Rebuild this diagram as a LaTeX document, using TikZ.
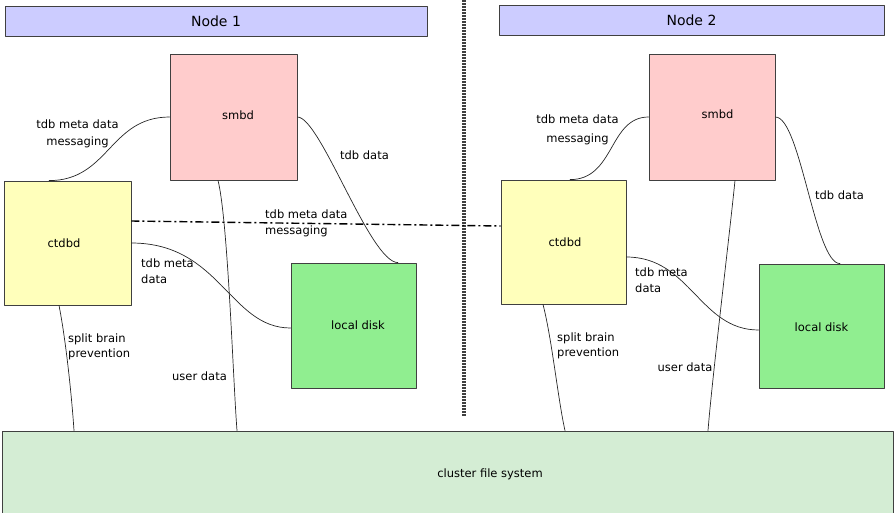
\documentclass[tikz,border=0pt]{standalone}
\usepackage{fontspec}
\setmainfont{DejaVu Sans}
\usepackage{tikz}
\usetikzlibrary{arrows.meta, positioning}
\definecolor{headblue}{HTML}{CCCCFF}
\definecolor{smbdred}{HTML}{FFCCCC}
\definecolor{ctdbyellow}{HTML}{FFFFBB}
\definecolor{diskgreen}{HTML}{90EE90}
\definecolor{cfsgreen}{HTML}{D4EDD4}
\tikzset{box/.style={draw=black!75, line width=0.8pt, minimum width=#1, inner sep=0pt,
  font=\fontsize{11.5}{14}\selectfont}}
\tikzset{lbl/.style={inner sep=0pt, font=\fontsize{11.5}{17}\selectfont}}
\tikzset{link/.style={line width=0.7pt, black!85}}

\begin{document}
\begin{tikzpicture}[line cap=round,line join=round,x=1pt,y=-1pt]
\useasboundingbox (0,0) rectangle (894,512);

% headers
\node[box=422pt, minimum height=30pt, fill=headblue, font=\fontsize{14}{16}\selectfont] (head1) at (216,21) {Node 1};
\node[box=385pt, minimum height=30pt, fill=headblue, font=\fontsize{14}{16}\selectfont] (head2) at (691.5,20) {Node 2};

% divider
\draw[line width=3.5pt, black!75, dash pattern=on 1.5pt off 1.5pt, line cap=butt] (464,0) -- (464,416);

% boxes node 1
\node[box=127pt, minimum height=126pt, fill=smbdred, label={[lbl, xshift=4.5pt, yshift=2pt]center:smbd}] (smbd1) at (233.5,117) {};
\node[box=127pt, minimum height=124pt, fill=ctdbyellow, label={[lbl, xshift=-3.5pt]center:ctdbd}] (ctdbd1) at (67.5,243) {};
\node[box=125pt, minimum height=125pt, fill=diskgreen, label={[lbl, xshift=4.5pt]center:local disk}] (disk1) at (353.5,325.5) {};

% boxes node 2
\node[box=126pt, minimum height=126pt, fill=smbdred, label={[lbl, xshift=5.5pt, yshift=3pt]center:smbd}] (smbd2) at (712,117) {};
\node[box=125pt, minimum height=124pt, fill=ctdbyellow, label={[lbl, xshift=1.5pt]center:ctdbd}] (ctdbd2) at (563.5,242) {};
\node[box=125pt, minimum height=124pt, fill=diskgreen, label={[lbl, yshift=-1pt]center:local disk}] (disk2) at (821.5,326) {};

% shared storage
\node[box=891pt, minimum height=84pt, fill=cfsgreen, label={[lbl, xshift=42.5pt, yshift=-1pt]center:cluster file system}] (cfs) at (447.5,473) {};

% connectors node 1
\draw[link] ([xshift=-18.5pt]ctdbd1.north) .. controls +(60,0) and +(-60,0) .. (smbd1.west);
\draw[link] (smbd1.east) .. controls +(23,0) and +(-28,0) .. ([xshift=44.5pt]disk1.north);
\draw[link] ([xshift=-15.5pt]smbd1.south) .. controls +(10,40) and +(-4,-51) .. ([xshift=3.5pt]cfs.north -| smbd1.south);
\draw[link] (ctdbd1.east) .. controls +(89,0) and +(-61,0) .. ([yshift=-2.5pt]disk1.west);
\draw[link] ([xshift=-8.5pt]ctdbd1.south) .. controls +(7,35) and +(-2,-31) .. ([xshift=6.5pt]cfs.north -| ctdbd1.south);

% connectors node 2
\draw[link] ([xshift=6.5pt]ctdbd2.north) .. controls +(45,0) and +(-40,0) .. (smbd2.west);
\draw[link] (smbd2.east) .. controls +(25,0) and +(-25,0) .. ([xshift=18.5pt]disk2.north);
\draw[link] ([xshift=23pt]smbd2.south) .. controls +(-5,50) and +(4,-51) .. ([xshift=-4pt]cfs.north -| smbd2.south);
\draw[link] ([yshift=-15pt]ctdbd2.east) .. controls +(64,0) and +(-59,0) .. ([yshift=-4pt]disk2.west);
\draw[link] ([xshift=-20.5pt]ctdbd2.south) .. controls +(9,35) and +(-7,-31) .. ([xshift=1.5pt]cfs.north -| ctdbd2.south);

% cross node messaging
\draw[line width=1.4pt, dash pattern=on 8pt off 3pt on 2pt off 3pt, line cap=butt]
  ([yshift=22pt]ctdbd1.east) -- ([yshift=16pt]ctdbd2.west);

% labels node 1
\node[lbl, align=center] (l1a) at (77.5,134) {tdb meta data\\messaging};
\node[lbl] (l1b) at (364.5,155) {tdb data};
\node[lbl] (l1c) at (199.5,376) {user data};
\node[lbl, align=left, anchor=west, font=\fontsize{11.5}{15.5}\selectfont] (l1d) at (141,271) {tdb meta\\data};
\node[lbl, align=left, anchor=west, font=\fontsize{11.5}{15.5}\selectfont] (l1e) at (68,347) {split brain\\prevention};
\node[lbl, align=left, anchor=west, font=\fontsize{11.5}{16}\selectfont] (lmsg) at (265,223) {tdb meta data\\messaging};

% labels node 2
\node[lbl, align=center, font=\fontsize{11.5}{19}\selectfont] (l2a) at (577.5,130) {tdb meta data\\messaging};
\node[lbl] (l2b) at (839.5,195) {tdb data};
\node[lbl] (l2c) at (685,367) {user data};
\node[lbl, align=left, anchor=west, font=\fontsize{11.5}{15.5}\selectfont] (l2d) at (635,280) {tdb meta\\data};
\node[lbl, align=left, anchor=west, font=\fontsize{11.5}{15.5}\selectfont] (l2e) at (557,346) {split brain\\prevention};

\end{tikzpicture}
\end{document}
